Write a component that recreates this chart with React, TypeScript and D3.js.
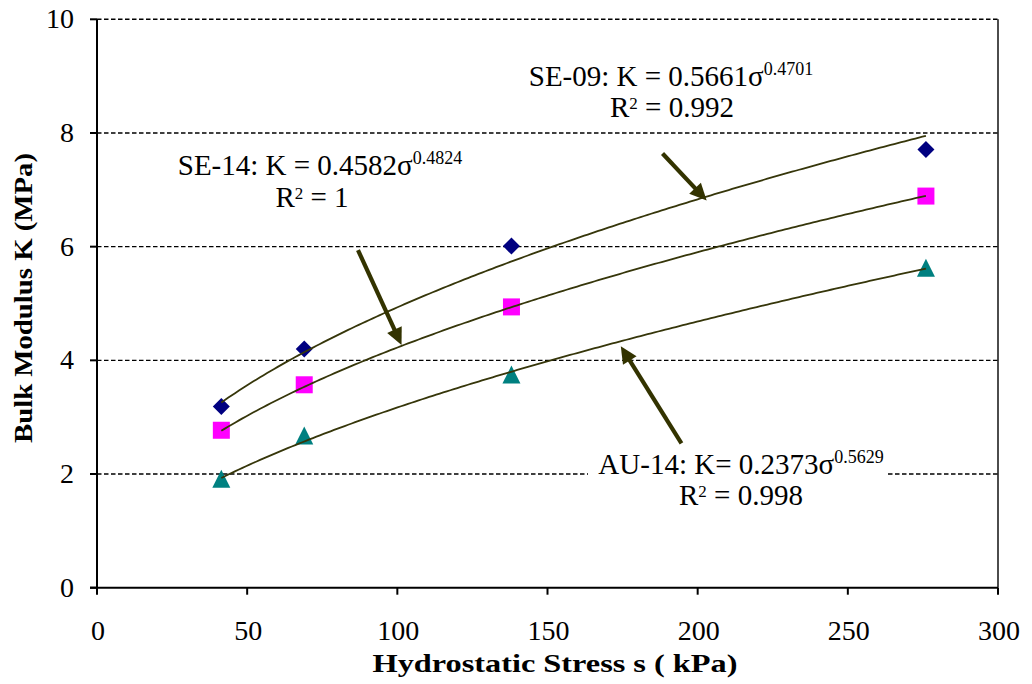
import React from "react";
import * as d3 from "d3";

// Hydrostatic stress levels (kPa) at which bulk modulus was measured
const stress = [41.4, 69, 138, 276];

// Measured bulk modulus K (MPa) per material
const se09 = [3.19, 4.2, 6.01, 7.71];
const se14 = [2.77, 3.57, 4.94, 6.89];
const au14 = [1.91, 2.67, 3.74, 5.62];

// Power-law fits K = a * sigma^b
const fitCoef = [0.5661, 0.4582, 0.2373];
const fitExp = [0.4701, 0.4824, 0.5629];
const fitR2 = ["0.992", "1", "0.998"];

const xTicks = [0, 50, 100, 150, 200, 250, 300];
const yTicks = [0, 2, 4, 6, 8, 10];

// Callout arrows, in data units: [fromX, fromY, toX, toY]
const arrowsData: [number, number, number, number][] = [
  [188.3, 7.64, 203.0, 6.81],
  [86.9, 5.94, 101.4, 4.27],
  [194.6, 2.54, 174.4, 4.25],
];

const W = 1032;
const H = 684;
const FONT = "'Liberation Serif', 'Times New Roman', serif";
const CURVE = "#36360a";
const ARROW = "#333300";

const x = d3.scaleLinear().domain([0, 300]).range([97, 998]);
const y = d3.scaleLinear().domain([0, 10]).range([587.7, 19.3]);

function fitPath(a: number, b: number, x0: number, x1: number) {
  const pts = d3.range(0, 201).map((i) => {
    const s = x0 + ((x1 - x0) * i) / 200;
    return [s, a * Math.pow(s, b)] as [number, number];
  });
  return d3
    .line<[number, number]>()
    .x((d) => x(d[0]))
    .y((d) => y(d[1]))
    .curve(d3.curveLinear)(pts) as string;
}

function Arrow({ d }: { d: [number, number, number, number] }) {
  const x0 = x(d[0]);
  const y0 = y(d[1]);
  const x1 = x(d[2]);
  const y1 = y(d[3]);
  const ang = Math.atan2(y1 - y0, x1 - x0);
  const headLen = 17;
  const headHalf = 8;
  const bx = x1 - headLen * Math.cos(ang);
  const by = y1 - headLen * Math.sin(ang);
  const px = -Math.sin(ang) * headHalf;
  const py = Math.cos(ang) * headHalf;
  return (
    <g>
      <line x1={x0} y1={y0} x2={bx + Math.cos(ang) * 2} y2={by + Math.sin(ang) * 2} stroke={ARROW} strokeWidth={4.2} />
      <polygon points={`${x1},${y1} ${bx + px},${by + py} ${bx - px},${by - py}`} fill={ARROW} />
    </g>
  );
}

function Diamond({ cx, cy }: { cx: number; cy: number }) {
  const r = 8.5;
  return <polygon points={`${cx},${cy - r} ${cx + r},${cy} ${cx},${cy + r} ${cx - r},${cy}`} fill="#000080" />;
}

function Square({ cx, cy }: { cx: number; cy: number }) {
  const r = 8.5;
  return <rect x={cx - r} y={cy - r} width={2 * r} height={2 * r} fill="#FF00FF" />;
}

function Triangle({ cx, cy }: { cx: number; cy: number }) {
  const r = 8.5;
  return <polygon points={`${cx},${cy - r - 1} ${cx + r + 0.5},${cy + r} ${cx - r - 0.5},${cy + r}`} fill="#008080" />;
}

function Sup({ children, shift = 11, size = 18 }: { children: React.ReactNode; shift?: number; size?: number }) {
  return (
    <tspan dy={-shift} fontSize={size}>
      {children}
    </tspan>
  );
}

export default function App() {
  const x0 = d3.min(stress) as number;
  const x1 = d3.max(stress) as number;
  const fitText = (name: string, i: number, eq: string) => (
    <>
      <tspan>{`${name}: K${eq}${fitCoef[i].toFixed(4)}σ`}</tspan>
      <Sup>{fitExp[i].toFixed(4)}</Sup>
    </>
  );
  const r2Text = (i: number) => (
    <>
      R
      <Sup shift={8} size={17}>
        2
      </Sup>
      <tspan dy={8}>{` = ${fitR2[i]}`}</tspan>
    </>
  );

  return (
    <svg
      width={W}
      height={H}
      style={{ position: "absolute", left: 0, top: 0, background: "#fff" }}
      fontFamily={FONT}
    >
      {/* horizontal dashed gridlines */}
      {yTicks
        .filter((t) => t > 0)
        .map((t) => (
          <line key={t} x1={x(0)} x2={x(300)} y1={y(t)} y2={y(t)} stroke="#000" strokeWidth={1.4} strokeDasharray="4.5,2.5" />
        ))}

      {/* axes */}
      <line x1={x(0)} x2={x(0)} y1={y(10)} y2={y(0)} stroke="#000" strokeWidth={2} />
      <line x1={x(300)} x2={x(300)} y1={y(10)} y2={y(0)} stroke="#000" strokeWidth={1.4} />
      <line x1={x(0) - 7} x2={x(300)} y1={y(0)} y2={y(0)} stroke="#000" strokeWidth={2} />
      {yTicks.map((t) => (
        <g key={t}>
          <line x1={x(0) - 7} x2={x(0)} y1={y(t)} y2={y(t)} stroke="#000" strokeWidth={2} />
          <text x={74} y={y(t) + 9} textAnchor="end" fontSize={28} fill="#000">
            {t}
          </text>
        </g>
      ))}
      {xTicks.map((t) => (
        <g key={t}>
          <line x1={x(t)} x2={x(t)} y1={y(0)} y2={y(0) + 7} stroke="#000" strokeWidth={2} />
          <text x={x(t) + 1} y={640} textAnchor="middle" fontSize={28} fill="#000">
            {t}
          </text>
        </g>
      ))}

      {/* axis titles */}
      <text x={555} y={672} textAnchor="middle" fontSize={26} fontWeight="bold" textLength={365} lengthAdjust="spacingAndGlyphs">
        Hydrostatic Stress s ( kPa)
      </text>
      <text
        transform={`translate(32,298) rotate(-90)`}
        textAnchor="middle"
        fontSize={26}
        fontWeight="bold"
        textLength={290}
        lengthAdjust="spacingAndGlyphs"
      >
        Bulk Modulus K (MPa)
      </text>

      {/* measured points */}
      {stress.map((s, i) => (
        <Diamond key={`d${i}`} cx={x(s)} cy={y(se09[i])} />
      ))}
      {stress.map((s, i) => (
        <Square key={`s${i}`} cx={x(s)} cy={y(se14[i])} />
      ))}
      {stress.map((s, i) => (
        <Triangle key={`t${i}`} cx={x(s)} cy={y(au14[i])} />
      ))}

      {/* power-law trendlines */}
      {fitCoef.map((a, i) => (
        <path key={i} d={fitPath(a, fitExp[i], x0, x1)} fill="none" stroke={CURVE} strokeWidth={1.8} />
      ))}

      {/* label backing for the AU-14 equation */}
      <rect x={588} y={452} width={300} height={62} fill="#fff" />

      {/* callout arrows */}
      {arrowsData.map((d, i) => (
        <Arrow key={i} d={d} />
      ))}

      {/* fit equations */}
      <g fontSize={29} fill="#000">
        <text x={671} y={86} textAnchor="middle">
          {fitText("SE-09", 0, " = ")}
        </text>
        <text x={672} y={117} textAnchor="middle">
          {r2Text(0)}
        </text>

        <text x={320} y={175} textAnchor="middle">
          {fitText("SE-14", 1, " = ")}
        </text>
        <text x={312} y={207} textAnchor="middle">
          {r2Text(1)}
        </text>

        <text x={741} y={474} textAnchor="middle">
          {fitText("AU-14", 2, "= ")}
        </text>
        <text x={741} y={505} textAnchor="middle">
          {r2Text(2)}
        </text>
      </g>
    </svg>
  );
}
